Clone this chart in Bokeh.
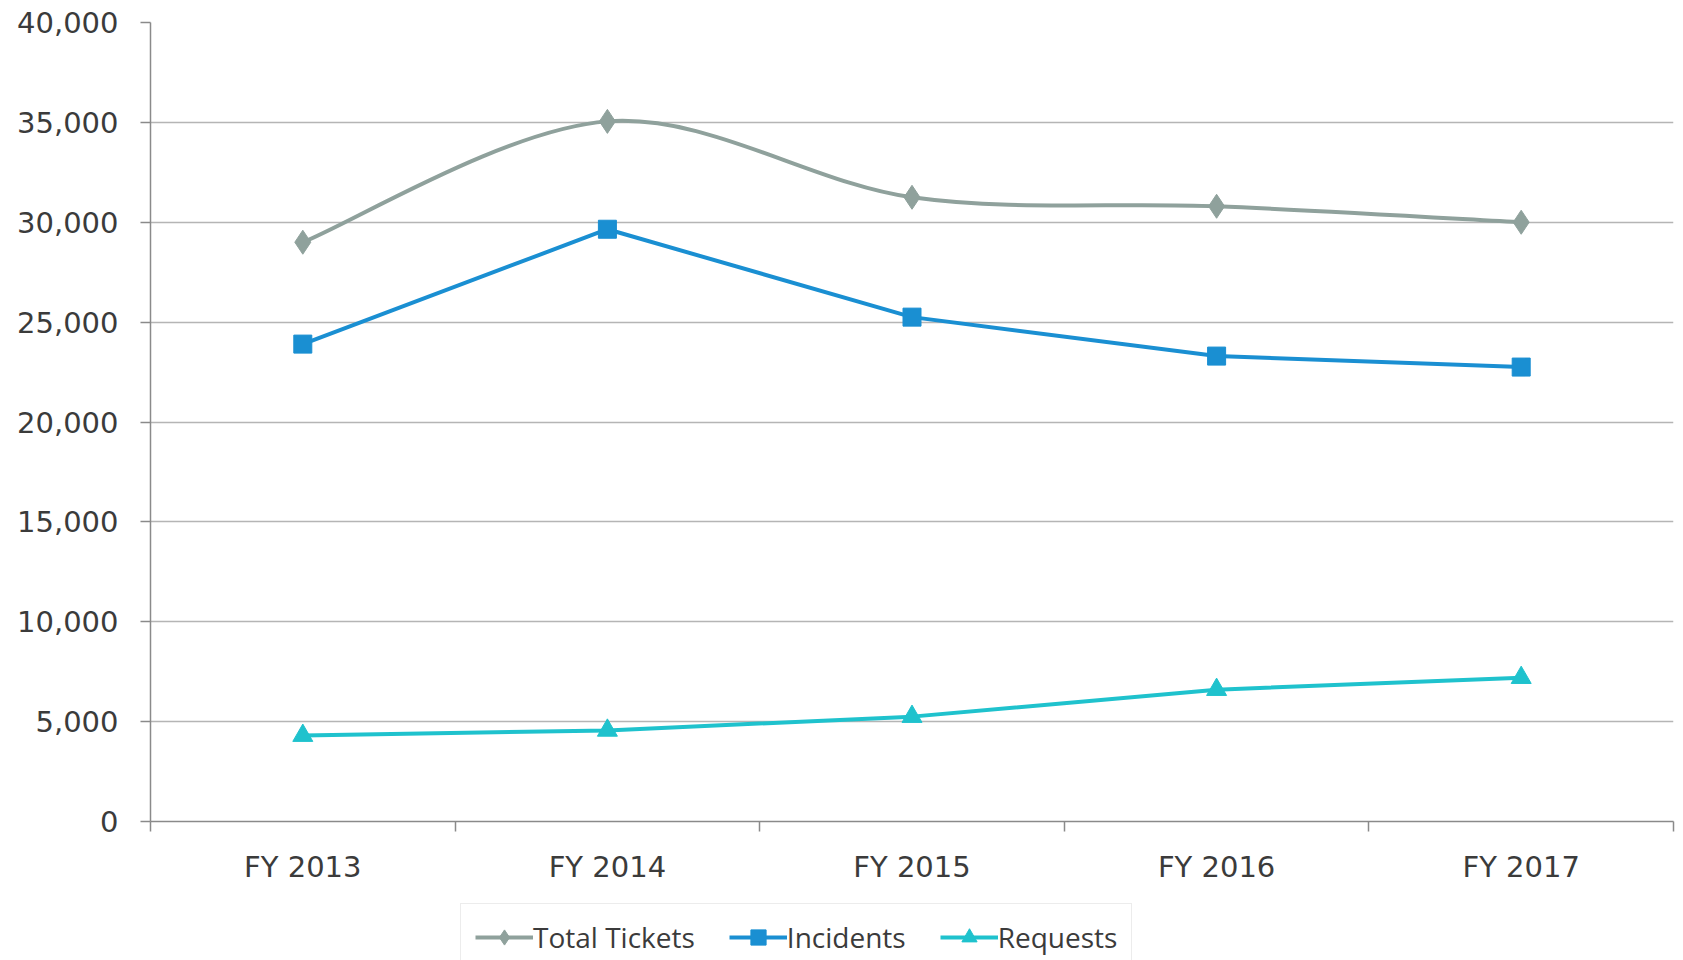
from bokeh.plotting import figure
from bokeh.layouts import column
from bokeh.models import (Range1d, FixedTicker, NumeralTickFormatter, Legend, LegendItem)
from bokeh.embed import file_html
from bokeh.resources import INLINE

categories = ["FY 2013", "FY 2014", "FY 2015", "FY 2016", "FY 2017"]
total_tickets = [29000, 35050, 31250, 30800, 30000]
incidents = [23900, 29650, 25250, 23300, 22750]
requests = [4300, 4560, 5250, 6600, 7200]

xs = [i + 0.5 for i in range(len(categories))]

p = figure(width=1683, height=900, output_backend="svg", toolbar_location=None,
           x_range=Range1d(0, len(categories)), y_range=Range1d(0, 40000),
           min_border_left=150, min_border_right=10, min_border_top=22, min_border_bottom=79)
p.outline_line_color = None
p.background_fill_color = "white"
p.border_fill_color = "white"

AXIS_COL = "#8a8a8a"
TEXT_COL = "#3b3b3b"

# x axis
xa = p.xaxis[0]
xa.ticker = FixedTicker(ticks=xs, minor_ticks=list(range(len(categories) + 1)))
xa.major_label_overrides = {x: c for x, c in zip(xs, categories)}
xa.major_tick_out = 0
xa.major_tick_in = 0
xa.minor_tick_out = 10
xa.minor_tick_in = 0
xa.minor_tick_line_color = AXIS_COL
xa.minor_tick_line_width = 1.5
xa.axis_line_color = AXIS_COL
xa.axis_line_width = 1.5
xa.major_label_standoff = 18
xa.major_label_text_font = "DejaVu Sans"
xa.major_label_text_font_size = "29px"
xa.major_label_text_color = TEXT_COL

# y axis
ya = p.yaxis[0]
ya.ticker = FixedTicker(ticks=list(range(0, 40001, 5000)))
ya.formatter = NumeralTickFormatter(format="0,0")
ya.major_tick_out = 10
ya.major_tick_in = 0
ya.minor_tick_out = 0
ya.minor_tick_in = 0
ya.major_tick_line_color = AXIS_COL
ya.major_tick_line_width = 1.5
ya.axis_line_color = AXIS_COL
ya.axis_line_width = 1.5
ya.major_label_standoff = 22
ya.major_label_text_font = "DejaVu Sans"
ya.major_label_text_font_size = "29px"
ya.major_label_text_color = TEXT_COL

p.xgrid.grid_line_color = None
p.ygrid.grid_line_color = "#b5b5b5"
p.ygrid.grid_line_width = 1.5


def smooth_segments(xv, yv, t=1.0 / 6.0):
    n = len(xv)
    x0, y0, x1, y1, cx0, cy0, cx1, cy1 = [], [], [], [], [], [], [], []
    for i in range(n - 1):
        pm = i - 1 if i > 0 else i
        pp = i + 2 if i + 2 < n else i + 1
        x0.append(xv[i]); y0.append(yv[i])
        x1.append(xv[i + 1]); y1.append(yv[i + 1])
        cx0.append(xv[i] + (xv[i + 1] - xv[pm]) * t)
        cy0.append(yv[i] + (yv[i + 1] - yv[pm]) * t)
        cx1.append(xv[i + 1] - (xv[pp] - xv[i]) * t)
        cy1.append(yv[i + 1] - (yv[pp] - yv[i]) * t)
    return dict(x0=x0, y0=y0, x1=x1, y1=y1, cx0=cx0, cy0=cy0, cx1=cx1, cy1=cy1)


series = [
    ("Total Tickets", total_tickets, "#8fa19c", "diamond", 24, True),
    ("Incidents", incidents, "#1a8fd2", "square", 18, False),
    ("Requests", requests, "#1fc2cd", "triangle", 20, False),
]

# legend strip: a second, axis-less figure whose ranges keep its copies of the series off-view
pl = figure(width=1683, height=60, output_backend="svg", toolbar_location=None,
            x_range=Range1d(100, 101), y_range=Range1d(100, 101),
            x_axis_location=None, y_axis_location=None, min_border=0)
pl.outline_line_color = None
pl.grid.grid_line_color = None
pl.background_fill_color = "white"
pl.border_fill_color = "white"

items = []
for name, vals, col, marker, size, smooth in series:
    if smooth:
        seg = smooth_segments(xs, vals)
        p.bezier(line_color=col, line_width=4, **seg)
    else:
        p.line(xs, vals, line_color=col, line_width=4)
    p.scatter(xs, vals, marker=marker, size=size, fill_color=col, line_color=col)
    l2 = pl.line(xs, vals, line_color=col, line_width=4)
    s2 = pl.scatter(xs, vals, marker=marker, size=size, fill_color=col, line_color=col)
    items.append(LegendItem(label=name, renderers=[l2, s2]))

legend = Legend(items=items, orientation="horizontal", location=(310, -11))
legend.label_text_font = "Open Sans"
legend.label_text_font_size = "28px"
legend.label_text_color = TEXT_COL
legend.glyph_width = 58
legend.glyph_height = 38
legend.label_standoff = 0
legend.spacing = 34
legend.padding = 14
legend.margin = 0
legend.border_line_color = "#d9d9d9"
legend.border_line_width = 1.5
legend.background_fill_color = "white"
pl.add_layout(legend, "center")

layout = column(p, pl, spacing=0)
open("out.html", "w").write(file_html(layout, INLINE))
